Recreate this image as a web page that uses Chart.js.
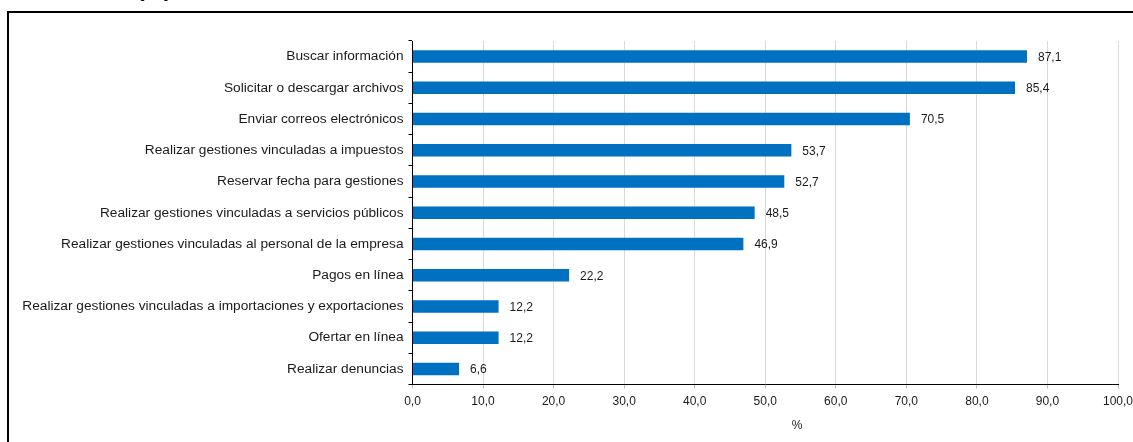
<!DOCTYPE html>
<html>
<head>
<meta charset="utf-8">
<script src="https://cdn.jsdelivr.net/npm/chart.js@4/dist/chart.umd.min.js"></script>
<style>
  html, body { margin: 0; padding: 0; width: 1133px; height: 442px; overflow: hidden; background: #fff; position: relative; font-family: "Liberation Sans", Arial, sans-serif; }
  #frame { position: absolute; left: 7px; top: 11px; width: 1300px; height: 600px; border: 2px solid #000; box-sizing: border-box; }
  #title { position: absolute; left: 137px; top: -24px; font: bold 22px "Liberation Sans", Arial, sans-serif; color: #000; white-space: nowrap; }
  #wrap { position: absolute; left: 0; top: 0; width: 1133px; height: 442px; overflow: hidden; }
  #xtitle { position: absolute; left: 797px; top: 425px; transform: translate(-50%, -50%); font: 12px "Liberation Sans", Arial, sans-serif; color: #1a1a1a; }
</style>
</head>
<body>
<div id="title">(%)</div>
<div id="frame"></div>
<div id="wrap"><canvas id="c" width="1160" height="442"></canvas></div>
<div id="xtitle">%</div>
<script>
const categories = [
  "Buscar información",
  "Solicitar o descargar archivos",
  "Enviar correos electrónicos",
  "Realizar gestiones vinculadas a impuestos",
  "Reservar fecha para gestiones",
  "Realizar gestiones vinculadas a servicios públicos",
  "Realizar gestiones vinculadas al personal de la empresa",
  "Pagos en línea",
  "Realizar gestiones vinculadas a importaciones y exportaciones",
  "Ofertar en línea",
  "Realizar denuncias"
];
const values = [87.1, 85.4, 70.5, 53.7, 52.7, 48.5, 46.9, 22.2, 12.2, 12.2, 6.6];
const xTickValues = [0, 10, 20, 30, 40, 50, 60, 70, 80, 90, 100];

const fmt = v => Number(v).toFixed(1).replace('.', ',');
const FONT = { family: '"Liberation Sans", Arial, sans-serif', size: 12 };
const CAT_FONT = { family: '"Liberation Sans", Arial, sans-serif', size: 13.7 };

const valueLabels = {
  id: 'valueLabels',
  afterDatasetsDraw(chart) {
    const ctx = chart.ctx;
    const meta = chart.getDatasetMeta(0);
    ctx.save();
    ctx.font = '12px "Liberation Sans", Arial, sans-serif';
    ctx.fillStyle = '#1a1a1a';
    ctx.textAlign = 'left';
    ctx.textBaseline = 'middle';
    meta.data.forEach((bar, i) => {
      ctx.fillText(fmt(values[i]), bar.x + 11, bar.y + 1);
    });
    ctx.restore();
  }
};

new Chart(document.getElementById('c'), {
  type: 'bar',
  data: {
    labels: categories,
    datasets: [{
      data: values,
      backgroundColor: '#0070C0',
      borderWidth: 0,
      barPercentage: 0.4,
      categoryPercentage: 1.0
    }]
  },
  options: {
    indexAxis: 'y',
    responsive: false,
    animation: false,
    devicePixelRatio: 1,
    layout: { padding: { left: 0, top: 41, right: 42, bottom: 0 } },
    plugins: { legend: { display: false }, tooltip: { enabled: false } },
    scales: {
      x: {
        min: 0, max: 100,
        afterBuildTicks(scale) { scale.ticks = xTickValues.map(v => ({ value: v })); },
        afterFit(scale) { scale.height = 57.5; },
        ticks: { callback: v => fmt(v), font: FONT, color: '#1a1a1a', padding: 6, maxRotation: 0, autoSkip: false },
        grid: { color: '#d9d9d9', lineWidth: 1, drawTicks: true, tickLength: 4, tickColor: '#bfbfbf' },
        border: { color: '#000', width: 1 }
      },
      y: {
        afterFit(scale) { scale.width = 412.5; },
        ticks: { font: CAT_FONT, color: '#1a1a1a', padding: 5, autoSkip: false },
        grid: { drawOnChartArea: false, drawTicks: true, tickLength: 4, tickColor: '#000', offset: true },
        border: { color: '#000', width: 1 }
      }
    }
  },
  plugins: [valueLabels]
});
</script>
</body>
</html>
